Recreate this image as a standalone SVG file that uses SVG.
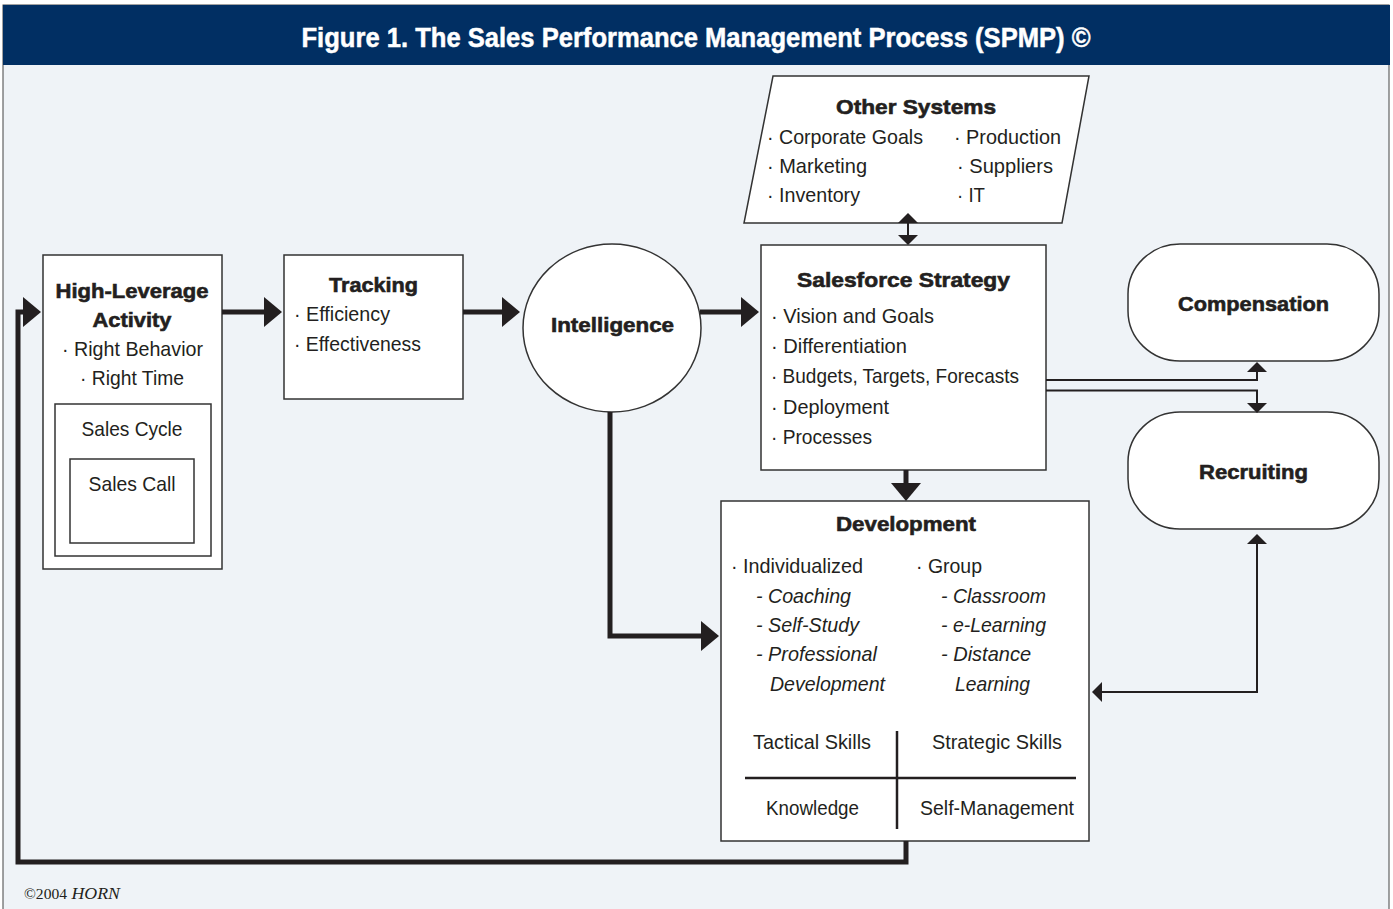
<svg xmlns="http://www.w3.org/2000/svg" width="1393" height="909" viewBox="0 0 1393 909">
  <defs>
    <style>
      .txt { font-family: "Liberation Sans", Arial, sans-serif; font-size: 21px; fill: #231f20; }
      .hd { font-family: "Liberation Sans", Arial, sans-serif; font-size: 21px; font-weight: bold; fill: #231f20; stroke: #231f20; stroke-width: 0.6; }
      .it { font-style: italic; }
      .box { fill: #ffffff; stroke: #333333; stroke-width: 1.5; }
      .thick { fill: none; stroke: #231f20; stroke-width: 5; stroke-linejoin: miter; }
      .thin { fill: none; stroke: #231f20; stroke-width: 2; }
      .rule { stroke: #231f20; stroke-width: 2.5; }
    </style>
    <marker id="headThick" markerUnits="userSpaceOnUse" markerWidth="18" markerHeight="30" refX="0" refY="15" orient="auto-start-reverse" viewBox="0 0 18 30">
      <path d="M0,0 L18,15 L0,30 z" fill="#231f20"/>
    </marker>
    <marker id="headThin" markerUnits="userSpaceOnUse" markerWidth="10" markerHeight="20" refX="0" refY="10" orient="auto-start-reverse" viewBox="0 0 10 20">
      <path d="M0,0 L10,10 L0,20 z" fill="#231f20"/>
    </marker>
  </defs>

  <!-- frame and title bar -->
  <rect x="0" y="0" width="1393" height="909" fill="#ffffff"/>
  <rect x="3" y="5" width="1386" height="910" fill="#eff3f7" stroke="#444444" stroke-width="1"/>
  <rect x="3" y="5" width="1387" height="60" fill="#012f63"/>
  <text x="696" y="47" text-anchor="middle" font-family="'Liberation Sans', Arial, sans-serif" font-size="28" font-weight="bold" fill="#ffffff" stroke="#ffffff" stroke-width="0.5" textLength="789" lengthAdjust="spacingAndGlyphs">Figure 1. The Sales Performance Management Process (SPMP) ©</text>

  <!-- High-Leverage Activity -->
  <g id="high-leverage-activity">
    <rect class="box" x="43" y="255" width="179" height="314"/>
    <text class="hd" x="132" y="298" text-anchor="middle" textLength="153" lengthAdjust="spacingAndGlyphs">High-Leverage</text>
    <text class="hd" x="132" y="327" text-anchor="middle" textLength="79" lengthAdjust="spacingAndGlyphs">Activity</text>
    <text class="txt" x="62" y="356" textLength="141" lengthAdjust="spacingAndGlyphs">· Right Behavior</text>
    <text class="txt" x="80" y="385" textLength="104" lengthAdjust="spacingAndGlyphs">· Right Time</text>
    <rect class="box" x="55" y="404" width="156" height="152"/>
    <text class="txt" x="132" y="436" text-anchor="middle" textLength="101" lengthAdjust="spacingAndGlyphs">Sales Cycle</text>
    <rect class="box" x="70" y="459" width="124" height="84"/>
    <text class="txt" x="132" y="491" text-anchor="middle" textLength="87" lengthAdjust="spacingAndGlyphs">Sales Call</text>
  </g>

  <!-- Tracking -->
  <g id="tracking">
    <rect class="box" x="284" y="255" width="179" height="144"/>
    <text class="hd" x="373.5" y="292" text-anchor="middle" textLength="89" lengthAdjust="spacingAndGlyphs">Tracking</text>
    <text class="txt" x="294" y="321" textLength="96" lengthAdjust="spacingAndGlyphs">· Efficiency</text>
    <text class="txt" x="294" y="351" textLength="127" lengthAdjust="spacingAndGlyphs">· Effectiveness</text>
  </g>

  <!-- Intelligence -->
  <g id="intelligence">
    <ellipse class="box" cx="612" cy="328" rx="89" ry="84"/>
    <text class="hd" x="612.5" y="332" text-anchor="middle" textLength="123" lengthAdjust="spacingAndGlyphs">Intelligence</text>
  </g>

  <!-- Other Systems -->
  <g id="other-systems">
    <polygon class="box" points="773,76 1089,76 1062,223 744,223"/>
    <text class="hd" x="916" y="114" text-anchor="middle" textLength="160" lengthAdjust="spacingAndGlyphs">Other Systems</text>
    <text class="txt" x="767" y="144" textLength="156" lengthAdjust="spacingAndGlyphs">· Corporate Goals</text>
    <text class="txt" x="767" y="173" textLength="100" lengthAdjust="spacingAndGlyphs">· Marketing</text>
    <text class="txt" x="767" y="202" textLength="93" lengthAdjust="spacingAndGlyphs">· Inventory</text>
    <text class="txt" x="954" y="144" textLength="107" lengthAdjust="spacingAndGlyphs">· Production</text>
    <text class="txt" x="957" y="173" textLength="96" lengthAdjust="spacingAndGlyphs">· Suppliers</text>
    <text class="txt" x="957" y="202" textLength="28" lengthAdjust="spacingAndGlyphs">· IT</text>
  </g>

  <!-- Salesforce Strategy -->
  <g id="salesforce-strategy">
    <rect class="box" x="761" y="245" width="285" height="225"/>
    <text class="hd" x="903.5" y="287" text-anchor="middle" textLength="213" lengthAdjust="spacingAndGlyphs">Salesforce Strategy</text>
    <text class="txt" x="771" y="323" textLength="163" lengthAdjust="spacingAndGlyphs">· Vision and Goals</text>
    <text class="txt" x="771" y="353" textLength="136" lengthAdjust="spacingAndGlyphs">· Differentiation</text>
    <text class="txt" x="771" y="383" textLength="248" lengthAdjust="spacingAndGlyphs">· Budgets, Targets, Forecasts</text>
    <text class="txt" x="771" y="414" textLength="118" lengthAdjust="spacingAndGlyphs">· Deployment</text>
    <text class="txt" x="771" y="444" textLength="101" lengthAdjust="spacingAndGlyphs">· Processes</text>
  </g>

  <!-- Compensation -->
  <g id="compensation">
    <rect class="box" x="1128" y="244" width="251" height="117" rx="52" ry="50"/>
    <text class="hd" x="1253.5" y="311" text-anchor="middle" textLength="151" lengthAdjust="spacingAndGlyphs">Compensation</text>
  </g>

  <!-- Recruiting -->
  <g id="recruiting">
    <rect class="box" x="1128" y="412" width="251" height="117" rx="52" ry="50"/>
    <text class="hd" x="1253.5" y="479" text-anchor="middle" textLength="109" lengthAdjust="spacingAndGlyphs">Recruiting</text>
  </g>

  <!-- Development -->
  <g id="development">
    <rect class="box" x="721" y="501" width="368" height="340"/>
    <text class="hd" x="906" y="531" text-anchor="middle" textLength="140" lengthAdjust="spacingAndGlyphs">Development</text>
    <text class="txt" x="731" y="573" textLength="132" lengthAdjust="spacingAndGlyphs">· Individualized</text>
    <text class="txt it" x="756" y="603" textLength="95" lengthAdjust="spacingAndGlyphs">- Coaching</text>
    <text class="txt it" x="756" y="632" textLength="103" lengthAdjust="spacingAndGlyphs">- Self-Study</text>
    <text class="txt it" x="756" y="661" textLength="121" lengthAdjust="spacingAndGlyphs">- Professional</text>
    <text class="txt it" x="770" y="691" textLength="115" lengthAdjust="spacingAndGlyphs">Development</text>
    <text class="txt" x="916" y="573" textLength="66" lengthAdjust="spacingAndGlyphs">· Group</text>
    <text class="txt it" x="941" y="603" textLength="105" lengthAdjust="spacingAndGlyphs">- Classroom</text>
    <text class="txt it" x="941" y="632" textLength="105" lengthAdjust="spacingAndGlyphs">- e-Learning</text>
    <text class="txt it" x="941" y="661" textLength="90" lengthAdjust="spacingAndGlyphs">- Distance</text>
    <text class="txt it" x="955" y="691" textLength="75" lengthAdjust="spacingAndGlyphs">Learning</text>
    <line class="rule" x1="897" y1="731" x2="897" y2="829"/>
    <line class="rule" x1="745" y1="778" x2="1076" y2="778"/>
    <text class="txt" x="812" y="749" text-anchor="middle" textLength="118" lengthAdjust="spacingAndGlyphs">Tactical Skills</text>
    <text class="txt" x="997" y="749" text-anchor="middle" textLength="130" lengthAdjust="spacingAndGlyphs">Strategic Skills</text>
    <text class="txt" x="812.5" y="815" text-anchor="middle" textLength="93" lengthAdjust="spacingAndGlyphs">Knowledge</text>
    <text class="txt" x="997" y="815" text-anchor="middle" textLength="154" lengthAdjust="spacingAndGlyphs">Self-Management</text>
  </g>

  <!-- connectors, drawn over the node outlines -->
  <g id="connectors">
    <path class="thick" d="M222,312 H264" marker-end="url(#headThick)"/>
    <path class="thick" d="M463,312 H502" marker-end="url(#headThick)"/>
    <path class="thick" d="M700,312 H741" marker-end="url(#headThick)"/>
    <path class="thick" d="M906,470 V483" marker-end="url(#headThick)"/>
    <path class="thick" d="M610,412 V636 H701" marker-end="url(#headThick)"/>
    <path class="thick" d="M906,841 V862 H18 V312 H23" marker-end="url(#headThick)"/>
    <path class="thin" d="M908,223 V235" marker-start="url(#headThin)" marker-end="url(#headThin)"/>
    <path class="thin" d="M1046,380 H1257 V372" marker-end="url(#headThin)"/>
    <path class="thin" d="M1046,390.5 H1257 V403" marker-end="url(#headThin)"/>
    <path class="thin" d="M1257,544 V692 H1102" marker-start="url(#headThin)" marker-end="url(#headThin)"/>
  </g>

  <!-- credit line -->
  <text x="24" y="899" font-family="'Liberation Serif', 'Times New Roman', serif" font-style="italic" font-size="16" fill="#231f20" textLength="96" lengthAdjust="spacingAndGlyphs"><tspan font-style="normal" font-size="14">©2004</tspan> HORN</text>
</svg>
